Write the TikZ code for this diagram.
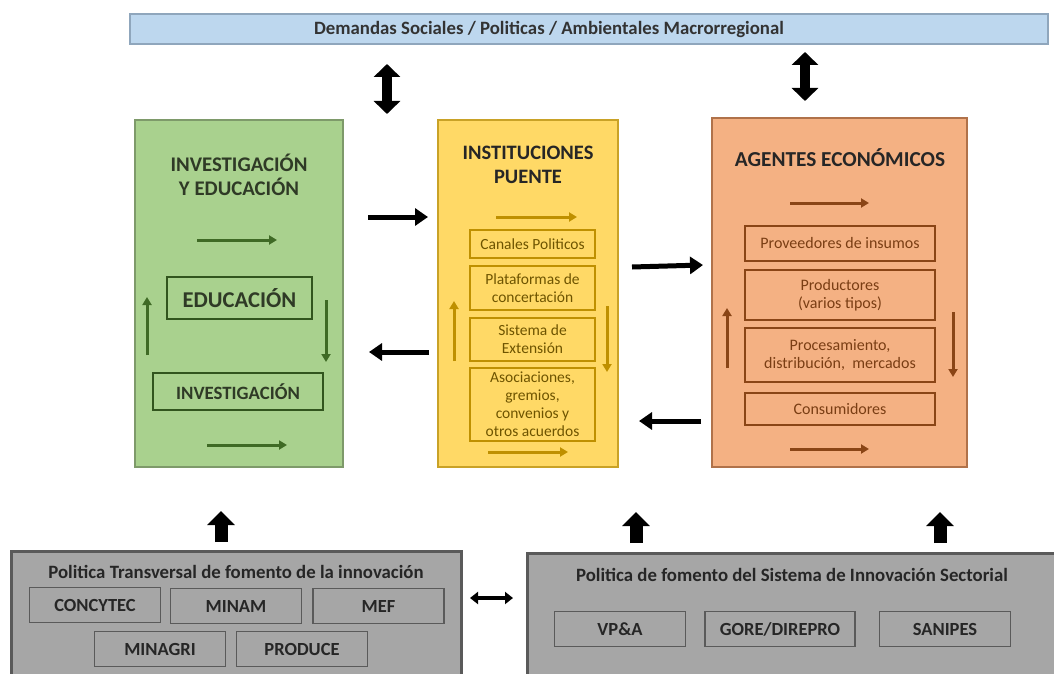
\documentclass[tikz,border=0pt]{standalone}
\usepackage{fontspec}
\setmainfont{Carlito}
\usetikzlibrary{arrows.meta}

\definecolor{barfill}{HTML}{BDD7EE}
\definecolor{barline}{HTML}{8FA6BC}
\definecolor{grnfill}{HTML}{A9D18E}
\definecolor{grnline}{HTML}{7E9A6A}
\definecolor{grndark}{HTML}{3F6A25}
\definecolor{grntext}{HTML}{2F3A26}
\definecolor{yelfill}{HTML}{FFD966}
\definecolor{yelline}{HTML}{C9A227}
\definecolor{yeldark}{HTML}{BF9000}
\definecolor{yeltext}{HTML}{6E5400}
\definecolor{orgfill}{HTML}{F4B183}
\definecolor{orgline}{HTML}{B0724A}
\definecolor{orgdark}{HTML}{8A4516}
\definecolor{orgtext}{HTML}{7A3E14}
\definecolor{gryfill}{HTML}{A6A6A6}
\definecolor{gryline}{HTML}{5A5A5A}
\definecolor{grytext}{HTML}{262626}

% font size with explicit line spacing
\newcommand{\fs}[2]{\fontsize{#1}{#2}\selectfont}

\tikzset{
  x=1pt, y=-1pt,
  panel/.style={draw, line width=1.3pt, inner sep=0pt},
  inbox/.style={draw, line width=1.6pt, inner sep=1pt, align=center},
  thinarrow/.style={line width=3pt, -{Triangle[length=8pt,width=9pt]}},
  linkarrow/.style={line width=5pt, black, -{Triangle[length=13pt,width=17pt]}},
  duplex/.style={line width=10pt, black, {Triangle[length=13pt,width=26pt]}-{Triangle[length=13pt,width=26pt]}},
  liftarrow/.style={line width=13pt, black, -{Triangle[length=14pt,width=27pt]}},
  pairarrow/.style={line width=4pt, black, {Triangle[length=8pt,width=12pt]}-{Triangle[length=8pt,width=12pt]}},
  grybox/.style={draw=gryline, line width=1.6pt, fill=gryfill, minimum width=131pt, minimum height=35pt, inner sep=0pt, font=\fs{18.5}{22}\bfseries, text=grytext},
}

\begin{document}
\begin{tikzpicture}
\clip (0,0) rectangle (1054,674);
\fill[white] (0,0) rectangle (1054,674);

% demand bar
\node[panel, draw=barline, fill=barfill, minimum width=918pt, minimum height=30pt] (bar) at (589,29) {};
\node[font=\fs{18.8}{22}\bfseries, text=black!80] (bartxt) at (549,29) {Demandas Sociales / Politicas / Ambientales Macrorregional};

% three main panels
\node[panel, draw=grnline, fill=grnfill, minimum width=208pt, minimum height=347pt] (inv) at (239,293.5) {};
\node[panel, draw=yelline, fill=yelfill, minimum width=180pt, minimum height=347pt] (ins) at (528,293.5) {};
\node[panel, draw=orgline, fill=orgfill, minimum width=255pt, minimum height=349pt] (age) at (839.5,292.5) {};

% research and education
\node[font=\fs{20.8}{24}\bfseries, text=grntext, align=center] (invt) at (239,175) {INVESTIGACIÓN\\Y EDUCACIÓN};
\node[inbox, draw=grndark!80!black, minimum width=145pt, minimum height=42pt, font=\fs{22.6}{26}\bfseries, text=grntext] (edu) at (239.5,298) {EDUCACIÓN};
\node[inbox, draw=grndark!80!black, minimum width=170pt, minimum height=37pt, font=\fs{18.8}{22}\bfseries, text=grntext] (invb) at (238,391.5) {INVESTIGACIÓN};
\coordinate (g1a) at (197,240); \coordinate (g1b) at (277,240);
\coordinate (g2a) at (207,445); \coordinate (g2b) at (287,445);
\coordinate (g3a) at (147,355); \coordinate (g3b) at (147,297);
\coordinate (g4a) at (326,300); \coordinate (g4b) at (326,362);
\draw[thinarrow, grndark] (g1a) -- (g1b);
\draw[thinarrow, grndark] (g2a) -- (g2b);
\draw[thinarrow, grndark] (g3a) -- (g3b);
\draw[thinarrow, grndark] (g4a) -- (g4b);

% bridge institutions
\node[font=\fs{20.5}{24}\bfseries, text=black!85, align=center] (inst) at (528,165) {INSTITUCIONES\\PUENTE};
\tikzset{yb/.style={inbox, draw=yeldark, minimum width=125pt, font=\fs{15.5}{18}, text=yeltext}}
\node[yb, minimum height=28pt] (can) at (532.5,244) {Canales Politicos};
\node[yb, minimum height=44pt] (pla) at (532.5,288) {Plataformas de\\concertación};
\node[yb, minimum height=43pt] (sis) at (532.5,339.5) {Sistema de\\Extensión};
\node[yb, minimum height=73pt] (aso) at (532.5,404.5) {Asociaciones,\\gremios,\\convenios y\\otros acuerdos};
\coordinate (y1a) at (496,217); \coordinate (y1b) at (577,217);
\coordinate (y2a) at (488,452); \coordinate (y2b) at (568,452);
\coordinate (y3a) at (454,361); \coordinate (y3b) at (454,301);
\coordinate (y4a) at (607,306); \coordinate (y4b) at (607,372);
\draw[thinarrow, yeldark] (y1a) -- (y1b);
\draw[thinarrow, yeldark] (y2a) -- (y2b);
\draw[thinarrow, yeldark] (y3a) -- (y3b);
\draw[thinarrow, yeldark] (y4a) -- (y4b);

% economic agents
\node[font=\fs{21.3}{25}\bfseries, text=black!85] (aget) at (840,158) {AGENTES ECONÓMICOS};
\tikzset{ob/.style={inbox, draw=orgdark, minimum width=190pt, font=\fs{16}{18}, text=orgtext}}
\node[ob, minimum height=35pt] (pro) at (840,243.5) {Proveedores de insumos};
\node[ob, minimum height=50pt] (prd) at (840,295) {Productores\\(varios tipos)};
\node[ob, minimum height=54pt] (pcs) at (840,355) {Procesamiento,\\distribución,~ mercados};
\node[ob, minimum height=32pt] (con) at (840,409) {Consumidores};
\coordinate (o1a) at (790,203); \coordinate (o1b) at (869,203);
\coordinate (o2a) at (790,449); \coordinate (o2b) at (869,449);
\coordinate (o3a) at (727,368); \coordinate (o3b) at (727,308);
\coordinate (o4a) at (953,312); \coordinate (o4b) at (953,377);
\draw[thinarrow, orgdark] (o1a) -- (o1b);
\draw[thinarrow, orgdark] (o2a) -- (o2b);
\draw[thinarrow, orgdark] (o3a) -- (o3b);
\draw[thinarrow, orgdark] (o4a) -- (o4b);

% links between panels
\coordinate (l1a) at (368,217); \coordinate (l1b) at (428,217);
\coordinate (l2a) at (429,352); \coordinate (l2b) at (369,352);
\coordinate (l3a) at (632,267); \coordinate (l3b) at (703,265);
\coordinate (l4a) at (701,421); \coordinate (l4b) at (639,421);
\draw[linkarrow] (l1a) -- (l1b);
\draw[linkarrow] (l2a) -- (l2b);
\draw[linkarrow] (l3a) -- (l3b);
\draw[linkarrow] (l4a) -- (l4b);

% exchanges with the demand bar
\coordinate (d1a) at (387,64); \coordinate (d1b) at (387,114);
\coordinate (d2a) at (805,52); \coordinate (d2b) at (805,101);
\draw[duplex] (d1a) -- (d1b);
\draw[duplex] (d2a) -- (d2b);

% policy panels
\node[draw=gryline, line width=3pt, fill=gryfill, minimum width=450pt, minimum height=140pt, inner sep=0pt] (pt) at (236,621) {};
\node[draw=gryline, line width=3pt, fill=gryfill, minimum width=540pt, minimum height=140pt, inner sep=0pt] (ps) at (797,623) {};
\node[font=\fs{18.8}{22}\bfseries, text=grytext] (ptt) at (236,572) {Politica Transversal de fomento de la innovación};
\node[font=\fs{18.8}{22}\bfseries, text=grytext] (pst) at (792,575) {Politica de fomento del Sistema de Innovación Sectorial};
\node[grybox] (cy) at (95,605) {CONCYTEC};
\node[grybox] (mi) at (236,606) {MINAM};
\node[grybox] (me) at (378.5,606) {MEF};
\node[grybox] (ma) at (160,649) {MINAGRI};
\node[grybox] (pr) at (302,649) {PRODUCE};
\node[grybox] (vp) at (620,629) {VP\&A};
\node[grybox, minimum width=150pt] (go) at (780,629) {GORE/DIREPRO};
\node[grybox] (sa) at (945,629) {SANIPES};

\coordinate (u1a) at (221,542); \coordinate (u1b) at (221,511);
\coordinate (u2a) at (636,543); \coordinate (u2b) at (636,512);
\coordinate (u3a) at (940,543); \coordinate (u3b) at (940,512);
\draw[liftarrow] (u1a) -- (u1b);
\draw[liftarrow] (u2a) -- (u2b);
\draw[liftarrow] (u3a) -- (u3b);

\coordinate (p1) at (470,598); \coordinate (p2) at (513,598);
\draw[pairarrow] (p1) -- (p2);
\end{tikzpicture}
\end{document}
